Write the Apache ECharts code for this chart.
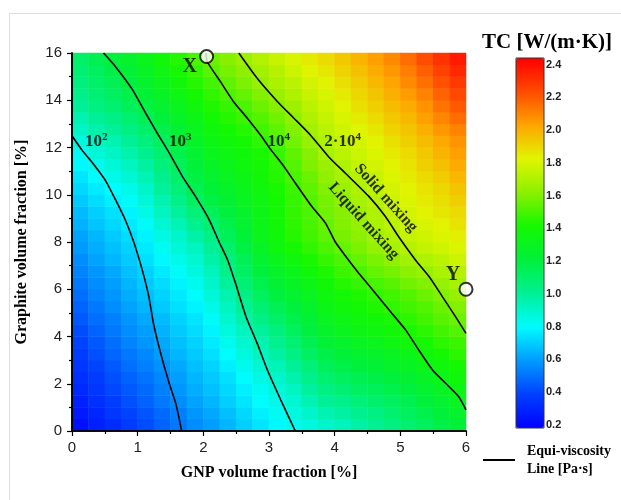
<!DOCTYPE html>
<html>
<head>
<meta charset="utf-8">
<script src="https://cdn.jsdelivr.net/npm/echarts@6/dist/echarts.min.js"></script>
<style>
html, body { margin: 0; background: #fff; }
#chart { width: 621px; height: 500px; }
</style>
</head>
<body>
<div id="chart"></div>
<script>
//셀 중심 좌표 (GNP, Graphite)
const gnpCells = ['0.125','0.375','0.625','0.875','1.125','1.375','1.625','1.875','2.125','2.375','2.625','2.875',
                  '3.125','3.375','3.625','3.875','4.125','4.375','4.625','4.875','5.125','5.375','5.625','5.875'];
const graphiteCells = ['0.25','0.75','1.25','1.75','2.25','2.75','3.25','3.75','4.25','4.75','5.25','5.75',
                       '6.25','6.75','7.25','7.75','8.25','8.75','9.25','9.75','10.25','10.75','11.25','11.75',
                       '12.25','12.75','13.25','13.75','14.25','14.75','15.25','15.75'];

//TC 값, 아래 행부터
const tcRows = [
  [0.23,0.28,0.32,0.37,0.41,0.46,0.51,0.56,0.60,0.65,0.70,0.75,0.79,0.83,0.86,0.90,0.93,0.97,1.01,1.05,1.09,1.13,1.18,1.22],
  [0.26,0.30,0.35,0.39,0.43,0.48,0.53,0.58,0.62,0.67,0.72,0.77,0.82,0.86,0.90,0.95,0.98,1.02,1.05,1.09,1.13,1.17,1.22,1.26],
  [0.28,0.33,0.37,0.42,0.46,0.51,0.56,0.61,0.65,0.70,0.75,0.80,0.84,0.89,0.95,1.00,1.03,1.07,1.10,1.13,1.16,1.21,1.25,1.30],
  [0.31,0.35,0.40,0.44,0.48,0.53,0.58,0.63,0.67,0.72,0.77,0.82,0.87,0.92,0.99,1.05,1.08,1.12,1.14,1.17,1.20,1.25,1.29,1.34],
  [0.33,0.37,0.42,0.46,0.50,0.55,0.60,0.65,0.69,0.74,0.80,0.85,0.90,0.96,1.03,1.09,1.13,1.16,1.18,1.21,1.24,1.29,1.33,1.38],
  [0.35,0.39,0.44,0.49,0.53,0.57,0.62,0.67,0.71,0.77,0.83,0.88,0.94,1.00,1.07,1.14,1.18,1.21,1.23,1.26,1.29,1.33,1.37,1.41],
  [0.37,0.42,0.47,0.51,0.55,0.60,0.65,0.69,0.74,0.80,0.86,0.92,0.98,1.05,1.12,1.18,1.22,1.25,1.27,1.30,1.33,1.37,1.41,1.45],
  [0.39,0.44,0.49,0.54,0.58,0.62,0.67,0.71,0.76,0.83,0.89,0.95,1.02,1.09,1.16,1.23,1.27,1.30,1.32,1.35,1.38,1.41,1.45,1.48],
  [0.41,0.46,0.51,0.56,0.60,0.64,0.69,0.73,0.78,0.86,0.92,0.99,1.06,1.13,1.20,1.27,1.31,1.34,1.36,1.39,1.42,1.45,1.49,1.52],
  [0.44,0.49,0.53,0.58,0.62,0.66,0.71,0.75,0.81,0.89,0.96,1.04,1.11,1.17,1.23,1.30,1.34,1.37,1.39,1.42,1.45,1.49,1.53,1.56],
  [0.46,0.51,0.56,0.61,0.65,0.69,0.74,0.78,0.84,0.92,1.00,1.08,1.15,1.21,1.27,1.33,1.37,1.40,1.43,1.46,1.49,1.52,1.56,1.60],
  [0.49,0.54,0.58,0.63,0.67,0.71,0.76,0.80,0.87,0.95,1.04,1.13,1.20,1.25,1.30,1.36,1.40,1.43,1.46,1.49,1.52,1.56,1.60,1.64],
  [0.51,0.56,0.60,0.65,0.69,0.73,0.78,0.83,0.90,0.99,1.08,1.17,1.24,1.29,1.34,1.39,1.44,1.47,1.50,1.53,1.57,1.60,1.64,1.68],
  [0.54,0.58,0.62,0.67,0.71,0.76,0.81,0.86,0.93,1.03,1.12,1.21,1.28,1.33,1.38,1.43,1.48,1.51,1.55,1.58,1.62,1.65,1.69,1.72],
  [0.56,0.61,0.65,0.69,0.74,0.79,0.84,0.89,0.97,1.06,1.15,1.25,1.32,1.37,1.42,1.47,1.51,1.55,1.59,1.63,1.67,1.70,1.73,1.77],
  [0.59,0.63,0.67,0.71,0.76,0.82,0.87,0.92,1.00,1.10,1.19,1.29,1.36,1.41,1.46,1.51,1.55,1.59,1.64,1.68,1.72,1.75,1.78,1.81],
  [0.61,0.65,0.69,0.73,0.78,0.85,0.90,0.97,1.04,1.14,1.22,1.32,1.38,1.44,1.49,1.54,1.58,1.62,1.67,1.71,1.75,1.78,1.81,1.84],
  [0.64,0.68,0.72,0.76,0.81,0.88,0.94,1.02,1.09,1.17,1.25,1.33,1.39,1.45,1.50,1.55,1.60,1.64,1.69,1.73,1.77,1.80,1.83,1.87],
  [0.66,0.70,0.74,0.78,0.84,0.92,0.99,1.07,1.14,1.21,1.27,1.34,1.40,1.46,1.51,1.57,1.61,1.66,1.70,1.75,1.79,1.83,1.86,1.89],
  [0.69,0.73,0.77,0.81,0.87,0.95,1.03,1.12,1.19,1.24,1.30,1.35,1.41,1.47,1.52,1.58,1.63,1.68,1.72,1.77,1.81,1.85,1.88,1.92],
  [0.72,0.76,0.80,0.84,0.90,0.99,1.07,1.16,1.22,1.27,1.32,1.37,1.42,1.48,1.54,1.60,1.65,1.70,1.74,1.79,1.83,1.87,1.90,1.95],
  [0.75,0.80,0.84,0.88,0.94,1.02,1.10,1.19,1.25,1.30,1.34,1.39,1.44,1.50,1.56,1.63,1.68,1.72,1.76,1.81,1.85,1.89,1.93,1.98],
  [0.79,0.83,0.87,0.92,0.98,1.06,1.14,1.22,1.28,1.32,1.36,1.40,1.45,1.52,1.59,1.65,1.70,1.75,1.79,1.83,1.87,1.92,1.96,2.01],
  [0.82,0.87,0.91,0.96,1.02,1.09,1.17,1.25,1.31,1.35,1.38,1.42,1.47,1.54,1.61,1.68,1.73,1.77,1.81,1.85,1.89,1.94,1.99,2.04],
  [0.86,0.91,0.95,1.00,1.06,1.13,1.21,1.28,1.34,1.38,1.41,1.45,1.50,1.57,1.64,1.70,1.75,1.79,1.83,1.88,1.92,1.97,2.02,2.07],
  [0.91,0.96,1.00,1.05,1.10,1.17,1.24,1.31,1.37,1.41,1.44,1.49,1.54,1.60,1.67,1.73,1.78,1.82,1.86,1.91,1.95,2.00,2.06,2.11],
  [0.95,1.00,1.04,1.09,1.15,1.21,1.28,1.34,1.40,1.44,1.48,1.52,1.57,1.63,1.70,1.75,1.80,1.85,1.89,1.94,1.98,2.04,2.10,2.16],
  [1.00,1.05,1.09,1.14,1.19,1.25,1.31,1.37,1.43,1.47,1.51,1.56,1.61,1.66,1.73,1.78,1.83,1.88,1.92,1.97,2.01,2.07,2.14,2.20],
  [1.03,1.08,1.12,1.17,1.23,1.29,1.35,1.41,1.46,1.51,1.55,1.60,1.65,1.70,1.76,1.80,1.85,1.90,1.95,2.00,2.05,2.11,2.18,2.24],
  [1.06,1.11,1.15,1.20,1.26,1.32,1.38,1.44,1.49,1.54,1.59,1.64,1.69,1.73,1.79,1.83,1.88,1.93,1.98,2.03,2.09,2.15,2.22,2.28],
  [1.08,1.13,1.18,1.23,1.29,1.35,1.41,1.47,1.53,1.58,1.62,1.67,1.72,1.77,1.82,1.86,1.91,1.96,2.01,2.06,2.12,2.19,2.26,2.33],
  [1.11,1.16,1.21,1.26,1.32,1.38,1.44,1.50,1.56,1.61,1.66,1.71,1.76,1.80,1.85,1.89,1.94,1.99,2.04,2.09,2.16,2.23,2.30,2.37]
];

//등점도선 [GNP, Graphite]
const visc1e2 = [[0,12.5],[0.15,11.9],[0.34,11.25],[0.51,10.6],[0.66,9.8],[0.81,8.94],[0.94,8.0],[1.07,6.81],
                 [1.17,5.69],[1.24,4.56],[1.35,3.29],[1.48,2.02],[1.58,1.17],[1.67,0]];
const visc1e3 = [[0.48,16],[0.66,15.43],[0.92,14.45],[1.12,13.46],[1.30,12.6],[1.48,11.77],[1.68,10.78],[1.88,9.93],
                 [2.09,8.94],[2.24,8.0],[2.37,7.24],[2.49,6.25],[2.65,4.84],[2.82,3.71],[2.98,2.55],[3.18,1.31],[3.40,0]];
const visc1e4 = [[2.04,16],[2.06,15.63],[2.26,14.79],[2.46,13.94],[2.67,13.24],[2.87,12.53],[3.03,11.9],[3.2,11.3],
                 [3.40,10.5],[3.65,9.51],[3.86,8.8],[4.01,8.0],[4.21,7.24],[4.37,6.67],[4.62,5.83],[4.87,4.98],
                 [5.08,4.28],[5.28,3.43],[5.49,2.58],[5.69,2.02],[5.89,1.45],[6.0,0.89]];
const visc2e4 = [[2.54,16],[2.82,14.93],[3.13,13.94],[3.38,13.24],[3.63,12.53],[3.91,11.6],[4.16,10.92],[4.52,9.93],
                 [4.77,9.09],[4.98,8.2],[5.23,7.24],[5.44,6.53],[5.64,5.69],[5.84,4.84],[6.0,4.13]];

//표시점, 라벨
const markPoints = [
  { name: 'X', value: [2.05, 15.85], offset: [-17, 10] },
  { name: 'Y', value: [6.0, 6.0], offset: [-13, -14] }
];
const contourLabels = [
  { text: '{m|10}{s|2}', value: [0.37, 12.23] },
  { text: '{m|10}{s|3}', value: [1.65, 12.23] },
  { text: '{m|10}{s|4}', value: [3.15, 12.23] },
  { text: '{m|2·10}{s|4}', value: [4.12, 12.23] }
];
const mixingLabels = [
  { name: 'Solid mixing', value: [4.78, 9.86] },
  { name: 'Liquid mixing', value: [4.44, 8.89] }
];
const colorTicks = [0.2, 0.4, 0.6, 0.8, 1.0, 1.2, 1.4, 1.6, 1.8, 2.0, 2.2, 2.4];
const tcColors = ['#0000ff','#0041ff','#009bff','#00fcff','#00f096','#00f03c',
                  '#14f800','#8cf000','#e1f500','#ffa500','#ff4b00','#ff0000'];

const LEGEND_NAME = 'Equi-viscosity\nLine [Pa·s]';
const SERIF = 'Liberation Serif';
const SANS = 'Liberation Sans';

//히트맵 데이터
let heatData = [];
tcRows.forEach((row, j) => {
  row.forEach((v, i) => heatData.push([i, j, v]));
});

function contourSeries(data) {
  return {
    name: LEGEND_NAME,
    type: 'line',
    xAxisIndex: 1,
    yAxisIndex: 1,
    data: data,
    symbol: 'none',
    smooth: 0.2,
    lineStyle: { color: '#000', width: 1.6 },
    itemStyle: { color: '#000' },
    z: 3,
    silent: true
  };
}

const plotGrid = { left: 72, top: 53, width: 394, height: 378 };
const axisBlack = { lineStyle: { color: '#000', width: 1.5 } };

var myChart = echarts.init(document.getElementById('chart'));

var option = {
  animation: false,
  backgroundColor: '#fff',
  graphic: [
    {
      type: 'rect',
      silent: true,
      z: -10,
      shape: { x: 9.5, y: 13.5, width: 700, height: 600 },
      style: { fill: 'none', stroke: '#dddddd', lineWidth: 1 }
    },
    {
      type: 'text',
      left: 482,
      top: 32,
      style: { text: 'TC [W/(m·K)]', font: 'bold 21px "Liberation Serif"', fill: '#000' }
    }
  ],
  grid: [
    Object.assign({}, plotGrid),
    Object.assign({}, plotGrid),
    { left: 516, top: 58, width: 28, height: 370, show: true, z: 10,
      backgroundColor: 'transparent', borderColor: '#333', borderWidth: 1 }
  ],
  xAxis: [
    { type: 'category', gridIndex: 0, data: gnpCells, show: false },
    {
      type: 'value', gridIndex: 1, min: 0, max: 6, interval: 1, z: 5,
      axisLine: axisBlack,
      axisTick: { length: 5, lineStyle: { color: '#000', width: 1.2 } },
      minorTick: { show: true, splitNumber: 2, length: 3, lineStyle: { color: '#000', width: 1.2 } },
      splitLine: { show: false },
      axisLabel: { fontFamily: SANS, fontSize: 15, color: '#222', margin: 9 },
      name: 'GNP volume fraction [%]',
      nameLocation: 'middle',
      nameGap: 34,
      nameTextStyle: { fontFamily: SERIF, fontWeight: 'bold', fontSize: 16, color: '#000' }
    },
    {
      type: 'value', gridIndex: 1, min: 0, max: 6, position: 'top', z: 5,
      axisLine: axisBlack, axisTick: { show: false }, axisLabel: { show: false }, splitLine: { show: false }
    },
    { type: 'value', gridIndex: 2, show: false }
  ],
  yAxis: [
    { type: 'category', gridIndex: 0, data: graphiteCells, show: false },
    {
      type: 'value', gridIndex: 1, min: 0, max: 16, interval: 2, z: 5,
      axisLine: axisBlack,
      axisTick: { length: 5, lineStyle: { color: '#000', width: 1.2 } },
      minorTick: { show: true, splitNumber: 2, length: 3, lineStyle: { color: '#000', width: 1.2 } },
      splitLine: { show: false },
      axisLabel: { fontFamily: SANS, fontSize: 15, color: '#222', margin: 10 },
      name: 'Graphite volume fraction [%]',
      nameLocation: 'middle',
      nameGap: 42,
      nameTextStyle: { fontFamily: SERIF, fontWeight: 'bold', fontSize: 16, color: '#000' }
    },
    {
      type: 'value', gridIndex: 1, min: 0, max: 16, position: 'right', z: 5,
      axisLine: axisBlack, axisTick: { show: false }, axisLabel: { show: false }, splitLine: { show: false }
    },
    {
      type: 'value', gridIndex: 2, min: 0.18, max: 2.44, position: 'right',
      axisLine: { show: false }, axisTick: { show: false }, splitLine: { show: false },
      axisLabel: {
        customValues: colorTicks,
        formatter: (v) => v.toFixed(1),
        fontFamily: SANS, fontSize: 11, fontWeight: 'bold', color: '#222', margin: 2
      }
    }
  ],
  visualMap: {
    type: 'continuous',
    seriesIndex: 0,
    dimension: 2,
    min: 0.18,
    max: 2.44,
    calculable: false,
    hoverLink: false,
    orient: 'vertical',
    left: 516,
    top: 58,
    padding: 0,
    itemWidth: 28,
    itemHeight: 370,
    inRange: { color: tcColors }
  },
  legend: {
    left: 483,
    top: 442,
    padding: 0,
    itemWidth: 32,
    itemHeight: 2,
    selectedMode: false,
    data: [{ name: LEGEND_NAME, icon: 'rect', itemStyle: { color: '#000' } }],
    textStyle: { fontFamily: SERIF, fontWeight: 'bold', fontSize: 14, color: '#000', lineHeight: 18, padding: [0, 0, 0, 7] }
  },
  series: [
    {
      type: 'heatmap',
      xAxisIndex: 0,
      yAxisIndex: 0,
      data: heatData,
      progressive: 0,
      silent: true,
      itemStyle: { borderWidth: 0 }
    },
    contourSeries(visc1e2),
    contourSeries(visc1e3),
    contourSeries(visc1e4),
    contourSeries(visc2e4),
    {
      type: 'scatter',
      xAxisIndex: 1,
      yAxisIndex: 1,
      clip: false,
      z: 6,
      silent: true,
      symbolSize: 13,
      itemStyle: { color: '#fff', borderColor: '#000', borderWidth: 2 },
      data: markPoints.map((p) => ({
        name: p.name,
        value: p.value,
        label: { show: true, position: 'inside', offset: p.offset, formatter: '{b}',
                 fontFamily: SERIF, fontWeight: 'bold', fontSize: 20, color: '#000' }
      }))
    },
    {
      type: 'scatter',
      xAxisIndex: 1,
      yAxisIndex: 1,
      symbolSize: 0,
      z: 6,
      silent: true,
      data: contourLabels.map((c) => ({
        value: c.value,
        label: {
          show: true, position: 'inside', formatter: c.text,
          rich: {
            m: { fontFamily: SERIF, fontWeight: 'bold', fontSize: 17, color: '#000', lineHeight: 20 },
            s: { fontFamily: SERIF, fontWeight: 'bold', fontSize: 11, color: '#000', lineHeight: 12, verticalAlign: 'top' }
          }
        }
      }))
    },
    {
      type: 'scatter',
      xAxisIndex: 1,
      yAxisIndex: 1,
      symbolSize: 0,
      z: 6,
      silent: true,
      data: mixingLabels.map((m) => ({
        name: m.name,
        value: m.value,
        label: { show: true, position: 'inside', formatter: '{b}', rotate: -48,
                 fontFamily: SERIF, fontWeight: 'bold', fontSize: 16, color: '#000' }
      }))
    }
  ]
};

myChart.setOption(option);
</script>
</body>
</html>
